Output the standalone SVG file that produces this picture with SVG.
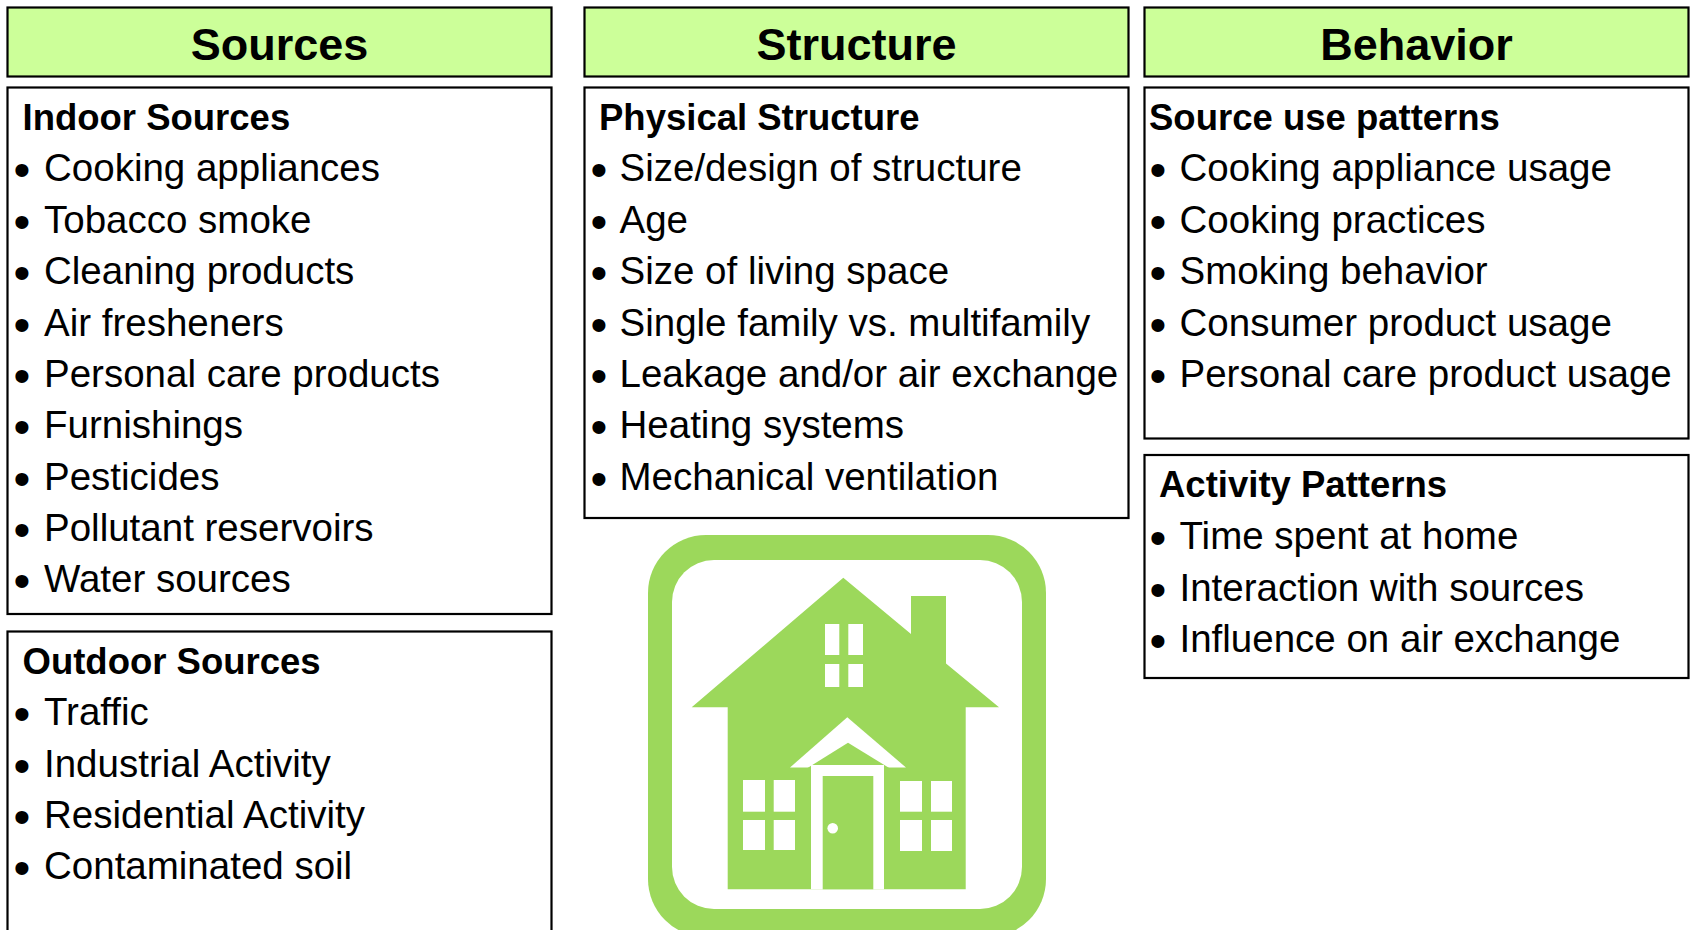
<svg xmlns="http://www.w3.org/2000/svg" width="1692" height="930" viewBox="0 0 1692 930">
<style>
.hdr{fill:#CCFF99;stroke:#000;stroke-width:2.2}
.box{fill:#fff;stroke:#000;stroke-width:2.2}
.title{font-family:"Liberation Sans",Arial,sans-serif;font-weight:bold;font-size:45px;fill:#000;text-anchor:middle}
.head{font-family:"Liberation Sans",Arial,sans-serif;font-weight:bold;font-size:36.5px;fill:#000}
.item{font-family:"Liberation Sans",Arial,sans-serif;font-size:38.5px;fill:#000}
.b{font-size:48px}
.g{fill:#9CD85B}
.w{fill:#fff}
</style>
<rect width="1692" height="930" fill="#fff"/>

<g id="sources">
<g id="sources-header">
<rect class="hdr" x="7.5" y="7.5" width="544" height="69"/>
<text class="title" x="279.5" y="59.5">Sources</text>
</g>
<g id="indoor-sources">
<rect class="box" x="7.5" y="87.5" width="544" height="526.5"/>
<text class="head" x="22.5" y="129.5">Indoor Sources</text>
<text class="item"><tspan class="b" x="13.5" y="186">•</tspan><tspan x="44" y="181">Cooking appliances</tspan></text>
<text class="item"><tspan class="b" x="13.5" y="237.5">•</tspan><tspan x="44" y="232.5">Tobacco smoke</tspan></text>
<text class="item"><tspan class="b" x="13.5" y="289">•</tspan><tspan x="44" y="284">Cleaning products</tspan></text>
<text class="item"><tspan class="b" x="13.5" y="340.5">•</tspan><tspan x="44" y="335.5">Air fresheners</tspan></text>
<text class="item"><tspan class="b" x="13.5" y="392">•</tspan><tspan x="44" y="387">Personal care products</tspan></text>
<text class="item"><tspan class="b" x="13.5" y="443">•</tspan><tspan x="44" y="438">Furnishings</tspan></text>
<text class="item"><tspan class="b" x="13.5" y="494.5">•</tspan><tspan x="44" y="489.5">Pesticides</tspan></text>
<text class="item"><tspan class="b" x="13.5" y="546">•</tspan><tspan x="44" y="541">Pollutant reservoirs</tspan></text>
<text class="item"><tspan class="b" x="13.5" y="597">•</tspan><tspan x="44" y="592">Water sources</tspan></text>
</g>
<g id="outdoor-sources">
<rect class="box" x="7.5" y="631.5" width="544" height="320"/>
<text class="head" x="22.5" y="673.5">Outdoor Sources</text>
<text class="item"><tspan class="b" x="13.5" y="730">•</tspan><tspan x="44" y="725">Traffic</tspan></text>
<text class="item"><tspan class="b" x="13.5" y="781.5">•</tspan><tspan x="44" y="776.5">Industrial Activity</tspan></text>
<text class="item"><tspan class="b" x="13.5" y="833">•</tspan><tspan x="44" y="828">Residential Activity</tspan></text>
<text class="item"><tspan class="b" x="13.5" y="884">•</tspan><tspan x="44" y="879">Contaminated soil</tspan></text>
</g>
</g>

<g id="structure">
<g id="structure-header">
<rect class="hdr" x="584.5" y="7.5" width="544" height="69"/>
<text class="title" x="856.5" y="59.5">Structure</text>
</g>
<g id="physical-structure">
<rect class="box" x="584.5" y="87.5" width="544" height="430.5"/>
<text class="head" x="599" y="129.5">Physical Structure</text>
<text class="item"><tspan class="b" x="590.5" y="186">•</tspan><tspan x="619.5" y="181">Size/design of structure</tspan></text>
<text class="item"><tspan class="b" x="590.5" y="237.5">•</tspan><tspan x="619.5" y="232.5">Age</tspan></text>
<text class="item"><tspan class="b" x="590.5" y="289">•</tspan><tspan x="619.5" y="284">Size of living space</tspan></text>
<text class="item"><tspan class="b" x="590.5" y="340.5">•</tspan><tspan x="619.5" y="335.5">Single family vs. multifamily</tspan></text>
<text class="item"><tspan class="b" x="590.5" y="392">•</tspan><tspan x="619.5" y="387">Leakage and/or air exchange</tspan></text>
<text class="item"><tspan class="b" x="590.5" y="443">•</tspan><tspan x="619.5" y="438">Heating systems</tspan></text>
<text class="item"><tspan class="b" x="590.5" y="494.5">•</tspan><tspan x="619.5" y="489.5">Mechanical ventilation</tspan></text>
</g>
<g id="house-icon">
<rect class="g" x="648" y="535" width="398" height="402" rx="58"/>
<rect class="w" x="672" y="560" width="350" height="349" rx="42"/>
<polygon class="g" points="843.3,577.7 911,634 911,596 946,596 946,663.5 999,707.3 965.7,707.3 965.7,889.3 727.7,889.3 727.7,707.3 691.7,707.3"/>
<rect class="w" x="825" y="624" width="38" height="63"/>
<rect class="g" x="839.3" y="624" width="9" height="63"/>
<rect class="g" x="825" y="655" width="38" height="9"/>
<polygon class="w" points="790,767.5 847.3,717.3 906,767.5"/>
<polygon class="g" points="806.7,768.5 848,742.7 890,768.5"/>
<rect class="w" x="811" y="765" width="73" height="124.3"/>
<rect class="g" x="822.7" y="776" width="50.6" height="113.3"/>
<circle class="w" cx="832.7" cy="828.3" r="5.3"/>
<rect class="w" x="743" y="780" width="52" height="70"/>
<rect class="g" x="765" y="780" width="8.7" height="70"/>
<rect class="g" x="743" y="811.7" width="52" height="8.3"/>
<rect class="w" x="900" y="781" width="52" height="70"/>
<rect class="g" x="922" y="781" width="9" height="70"/>
<rect class="g" x="900" y="811.7" width="52" height="8.3"/>
</g>
</g>

<g id="behavior">
<g id="behavior-header">
<rect class="hdr" x="1144.5" y="7.5" width="544" height="69"/>
<text class="title" x="1416.5" y="59.5">Behavior</text>
</g>
<g id="source-use-patterns">
<rect class="box" x="1144.5" y="87.5" width="544" height="351"/>
<text class="head" x="1149" y="129.5">Source use patterns</text>
<text class="item"><tspan class="b" x="1149.5" y="186">•</tspan><tspan x="1179.5" y="181">Cooking appliance usage</tspan></text>
<text class="item"><tspan class="b" x="1149.5" y="237.5">•</tspan><tspan x="1179.5" y="232.5">Cooking practices</tspan></text>
<text class="item"><tspan class="b" x="1149.5" y="289">•</tspan><tspan x="1179.5" y="284">Smoking behavior</tspan></text>
<text class="item"><tspan class="b" x="1149.5" y="340.5">•</tspan><tspan x="1179.5" y="335.5">Consumer product usage</tspan></text>
<text class="item"><tspan class="b" x="1149.5" y="392">•</tspan><tspan x="1179.5" y="387">Personal care product usage</tspan></text>
</g>
<g id="activity-patterns">
<rect class="box" x="1144.5" y="455" width="544" height="223"/>
<text class="head" x="1159" y="497">Activity Patterns</text>
<text class="item"><tspan class="b" x="1149.5" y="554">•</tspan><tspan x="1179.5" y="549">Time spent at home</tspan></text>
<text class="item"><tspan class="b" x="1149.5" y="605.5">•</tspan><tspan x="1179.5" y="600.5">Interaction with sources</tspan></text>
<text class="item"><tspan class="b" x="1149.5" y="657">•</tspan><tspan x="1179.5" y="652">Influence on air exchange</tspan></text>
</g>
</g>

<g id="connectors"/>
</svg>
